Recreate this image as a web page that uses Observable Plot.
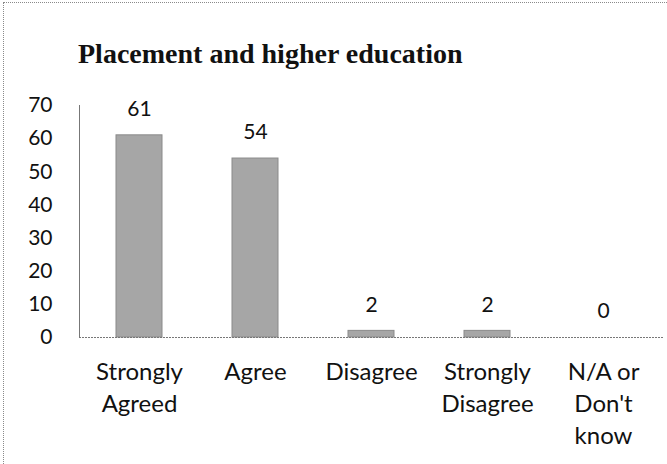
<!DOCTYPE html>
<html>
<head>
<meta charset="utf-8">
<script src="https://cdn.jsdelivr.net/npm/d3@7"></script>
<script src="https://cdn.jsdelivr.net/npm/@observablehq/plot@0.6"></script>
<style>
  html, body { margin: 0; padding: 0; background: #fff; }
  #wrap { position: relative; width: 667px; height: 464px; overflow: hidden; }
  #border { position: absolute; left: 3px; top: 2px; right: -10px; bottom: -10px;
            border-top: 1px dotted #8a8a8a; border-left: 1px dotted #8a8a8a; pointer-events: none; }
  #title { height: 80px; box-sizing: border-box; padding-top: 38px; padding-left: 78px;
           font: bold 28px "Liberation Serif", "Times New Roman", serif; line-height: 31px; color: #111; white-space: nowrap; }
  #chart svg { display: block; }
</style>
</head>
<body>
<div id="wrap">
  <div id="border"></div>
  <div id="title">Placement and higher education</div>
  <div id="chart"></div>
</div>
<script>
const categories = ["Strongly Agreed", "Agree", "Disagree", "Strongly Disagree", "N/A or Don't know"];
const values = [61, 54, 2, 2, 0];
const tickLabels = ["Strongly\nAgreed", "Agree", "Disagree", "Strongly\nDisagree", "N/A or\nDon't\nknow"];
const yTicks = [0, 10, 20, 30, 40, 50, 60, 70];

const data = categories.map((c, i) => ({category: c, value: values[i]}));
const labelOf = new Map(categories.map((c, i) => [c, tickLabels[i]]));

const chart = Plot.plot({
  width: 667,
  height: 384,
  marginTop: 25,
  marginBottom: 127,
  marginLeft: 79,
  marginRight: 4,
  style: {fontFamily: "Lato, 'Open Sans', sans-serif", color: "#111", background: "transparent"},
  x: {domain: categories, paddingInner: 0.6, paddingOuter: 0.3, axis: null, label: null},
  y: {domain: [0, 70], axis: null, label: null},
  marks: [
    Plot.barY(data, {x: "category", y: "value", fill: "#a6a6a6", stroke: "#8a8a8a", strokeWidth: 1}),
    Plot.ruleY([0], {stroke: "#777", strokeWidth: 1, strokeDasharray: "2,1"}),
    Plot.frame({anchor: "left", stroke: "#777", strokeDasharray: "2,1"}),
    Plot.axisY({ticks: yTicks, tickSize: 0, tickPadding: 27, fontSize: 21, label: null, tickFormat: d => String(d)}),
    Plot.axisX({tickSize: 0, tickPadding: 20, fontSize: 24, lineHeight: 1.33, lineAnchor: "top", label: null,
                tickFormat: d => labelOf.get(d)}),
    Plot.text(data, {x: "category", y: "value", text: d => String(d.value), dy: -26, fontSize: 21, fill: "#111"})
  ]
});
document.getElementById("chart").appendChild(chart);
</script>
</body>
</html>
